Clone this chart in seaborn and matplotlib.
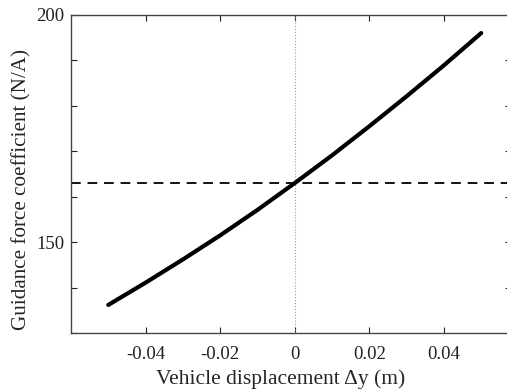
import matplotlib
matplotlib.use('Agg')
import matplotlib.pyplot as plt
import numpy as np
import pandas as pd
import seaborn as sns

# values
displacement = [-0.05, -0.04, -0.03, -0.02, -0.01, 0.0, 0.01, 0.02, 0.03, 0.04, 0.05]
guidance_coef = [136.2, 141.1, 146.2, 151.5, 157.1, 163.0, 169.1, 175.5, 182.1, 188.9, 196.0]
nominal_coef = 163.0

x_ticks = [-0.04, -0.02, 0, 0.02, 0.04]
x_ticklabels = ['-0.04', '-0.02', '0', '0.02', '0.04']
y_ticks = [130, 140, 150, 160, 170, 180, 190, 200]
y_ticklabels = ['', '', '150', '', '', '', '', '200']

sns.set_style('white')
plt.rcParams['font.family'] = ['Liberation Serif', 'DejaVu Serif']

df = pd.DataFrame({'x': displacement, 'y': guidance_coef})

fig = plt.figure(figsize=(5.07, 3.91), dpi=100)
ax = fig.add_axes([0.140, 0.148, 0.868, 0.814])

ax.axvline(0, color='#999999', lw=0.8, ls=':', zorder=1)
ax.axhline(nominal_coef, color='#111111', lw=1.4, ls=(0, (5, 3.5)), zorder=2)
sns.lineplot(data=df, x='x', y='y', ax=ax, color='black', lw=3.0, zorder=3)

ax.set_xlim(-0.06, 0.058)
ax.set_ylim(130, 200)
ax.set_xticks(x_ticks)
ax.set_xticklabels(x_ticklabels)
ax.set_yticks(y_ticks)
ax.set_yticklabels(y_ticklabels)
ax.tick_params(direction='in', length=4, width=0.8, top=True, right=True,
               bottom=True, left=True, labelsize=13.5, colors='#222222', pad=9)
ax.tick_params(axis='y', pad=5)

for sp in ax.spines.values():
    sp.set_color('#444444')
    sp.set_linewidth(1.0)
ax.spines['right'].set_visible(False)

ax.set_xlabel('Vehicle displacement \u0394y (m)', fontsize=15.5)
ax.set_ylabel('Guidance force coefficient (N/A)', fontsize=15.2)
ax.xaxis.set_label_coords(0.477, -0.112)
ax.yaxis.set_label_coords(-0.090, 0.45)

fig.savefig('out.png', dpi=100)
